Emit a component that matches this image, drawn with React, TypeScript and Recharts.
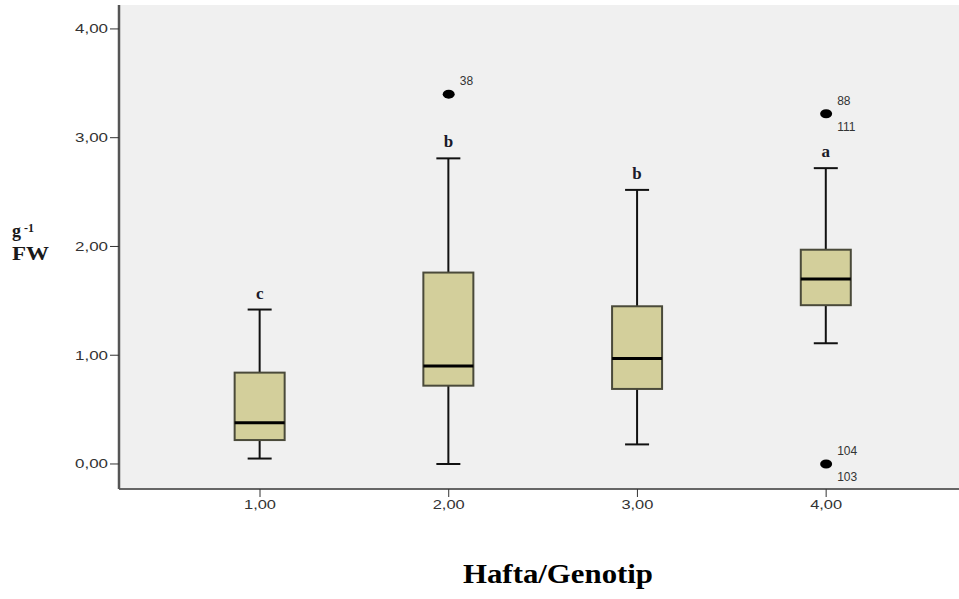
import React from "react";
import {
  ComposedChart,
  Bar,
  Scatter,
  XAxis,
  YAxis,
  CartesianGrid,
} from "recharts";

// box plot values per group (Hafta/Genotip)
const groups = [1, 2, 3, 4];
const lows = [0.05, 0.0, 0.18, 1.11];
const q1s = [0.22, 0.72, 0.69, 1.46];
const medians = [0.38, 0.9, 0.97, 1.7];
const q3s = [0.84, 1.76, 1.45, 1.97];
const highs = [1.42, 2.81, 2.52, 2.72];
const letters = ["c", "b", "b", "a"];

const outlierGroups = [2, 4, 4];
const outlierValues = [3.4, 3.22, 0.0];
const outlierTopLabels = ["38", "88", "104"];
const outlierBottomLabels = ["", "111", "103"];

const yTicks = [0, 1, 2, 3, 4];
const xTicks = [1, 2, 3, 4];

const boxData = groups.map((g, i) => ({
  x: g,
  low: lows[i],
  q1: q1s[i],
  med: medians[i],
  q3: q3s[i],
  high: highs[i],
  range: [q1s[i], q3s[i]],
  letter: letters[i],
}));

const outlierData = outlierGroups.map((g, i) => ({
  x: g,
  y: outlierValues[i],
  top: outlierTopLabels[i],
  bottom: outlierBottomLabels[i],
}));

const fmt = (v: number) => v.toFixed(2).replace(".", ",");

const BoxShape = (props: any) => {
  const { x, y, width, height, payload } = props;
  const unit = height / (payload.q3 - payload.q1);
  const cx = x + width / 2;
  const yHigh = y - (payload.high - payload.q3) * unit;
  const yLow = y + height + (payload.q1 - payload.low) * unit;
  const yMed = y + (payload.q3 - payload.med) * unit;
  return (
    <g>
      <line x1={cx} x2={cx} y1={yHigh} y2={y} stroke="#111" strokeWidth={2} />
      <line x1={cx} x2={cx} y1={y + height} y2={yLow} stroke="#111" strokeWidth={2} />
      <line x1={cx - 12} x2={cx + 12} y1={yHigh} y2={yHigh} stroke="#111" strokeWidth={2} />
      <line x1={cx - 12} x2={cx + 12} y1={yLow} y2={yLow} stroke="#111" strokeWidth={2} />
      <rect x={x} y={y} width={width} height={height} fill="#d3cf9b" stroke="#4a4a3a" strokeWidth={2} />
      <line x1={x} x2={x + width} y1={yMed} y2={yMed} stroke="#000" strokeWidth={3} />
      <text
        x={cx}
        y={yHigh - 11}
        textAnchor="middle"
        fontFamily="'Liberation Serif', serif"
        fontWeight="bold"
        fontSize={17}
        fill="#1a1a2a"
      >
        {payload.letter}
      </text>
    </g>
  );
};

const OutlierShape = (props: any) => {
  const { cx, cy, payload } = props;
  const labelStyle = {
    fontFamily: "'Liberation Sans', sans-serif",
    fontSize: 12,
    fill: "#333",
  };
  return (
    <g>
      <ellipse cx={cx} cy={cy} rx={6} ry={4.5} fill="#000" />
      {payload.top && (
        <text x={cx + 11} y={cy - 9} {...labelStyle}>
          {payload.top}
        </text>
      )}
      {payload.bottom && (
        <text x={cx + 11} y={cy + 17} {...labelStyle}>
          {payload.bottom}
        </text>
      )}
    </g>
  );
};

const YTick = (props: any) => {
  const { x, y, payload } = props;
  return (
    <text
      x={x}
      y={y + 4.5}
      textAnchor="end"
      fontFamily="'Liberation Sans', sans-serif"
      fontSize={12.5}
      fill="#333"
      textLength={33}
      lengthAdjust="spacingAndGlyphs"
    >
      {fmt(payload.value)}
    </text>
  );
};

const XTick = (props: any) => {
  const { x, y, payload } = props;
  return (
    <text
      x={x}
      y={y + 10}
      textAnchor="middle"
      fontFamily="'Liberation Sans', sans-serif"
      fontSize={12.5}
      fill="#333"
      textLength={32}
      lengthAdjust="spacingAndGlyphs"
    >
      {fmt(payload.value)}
    </text>
  );
};

const YTitle = () => (
  <g fontFamily="'Liberation Serif', serif" fontWeight="bold" fill="#1a1a1a">
    <text x={12} y={237} fontSize={18}>
      g
    </text>
    <text x={24} y={232} fontSize={12}>
      -1
    </text>
    <text x={12} y={260} fontSize={18} textLength={37} lengthAdjust="spacingAndGlyphs">
      FW
    </text>
  </g>
);

const XTitle = () => (
  <text
    x={558}
    y={583}
    textAnchor="middle"
    fontFamily="'Liberation Serif', serif"
    fontWeight="bold"
    fontSize={28}
    fill="#000"
    textLength={190}
    lengthAdjust="spacingAndGlyphs"
  >
    Hafta/Genotip
  </text>
);

export default function App() {
  return (
    <div style={{ position: "absolute", left: 0, top: 0, width: 959, height: 599, background: "#fff" }}>
      <ComposedChart
        width={959}
        height={599}
        data={boxData}
        margin={{ top: 5, right: 0, left: 0, bottom: 80 }}
      >
        <CartesianGrid fill="#f0f0f0" horizontal={false} vertical={false} />
        <XAxis
          dataKey="x"
          type="number"
          domain={[0.2528, 4.704]}
          ticks={xTicks}
          allowDataOverflow
          height={30}
          tickSize={8}
          tick={<XTick />}
          axisLine={{ stroke: "#666", strokeWidth: 2 }}
          tickLine={{ stroke: "#333" }}
          label={{ content: () => <XTitle /> }}
        />
        <XAxis
          xAxisId="top"
          orientation="top"
          dataKey="x"
          type="number"
          domain={[0.2528, 4.704]}
          height={0}
          tick={false}
          tickLine={false}
          axisLine={{ stroke: "#888", strokeWidth: 2 }}
        />
        <YAxis
          type="number"
          domain={[-0.23, 4.22]}
          ticks={yTicks}
          allowDataOverflow
          width={119}
          tickSize={9}
          tick={<YTick />}
          axisLine={{ stroke: "#555", strokeWidth: 2.5 }}
          tickLine={{ stroke: "#333" }}
          label={{ content: () => <YTitle /> }}
        />
        <Bar
          dataKey="range"
          barSize={50}
          shape={<BoxShape />}
          isAnimationActive={false}
        />
        <Scatter
          data={outlierData}
          dataKey="y"
          shape={<OutlierShape />}
          isAnimationActive={false}
        />
      </ComposedChart>
    </div>
  );
}
